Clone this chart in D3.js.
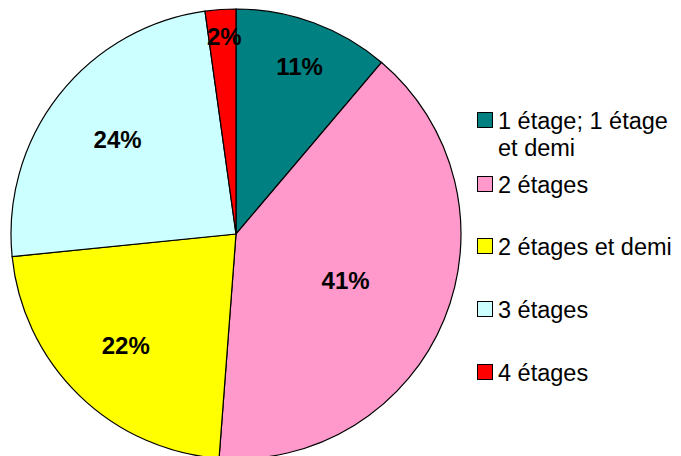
<!DOCTYPE html>
<html>
<head>
<meta charset="utf-8">
<script src="https://cdn.jsdelivr.net/npm/d3@7"></script>
<style>
  body { margin: 0; background: #fff; }
  text { font-family: "Liberation Sans", Arial, sans-serif; }
</style>
</head>
<body>
<svg id="chart" width="681" height="456"></svg>
<script>
// categories, in the order they are drawn (clockwise from 12 o'clock)
var categories = ["1 étage; 1 étage et demi", "2 étages", "2 étages et demi", "3 étages", "4 étages"];
// legend text lines (first entry wraps)
var legendLines = [["1 étage; 1 étage", "et demi"], ["2 étages"], ["2 étages et demi"], ["3 étages"], ["4 étages"]];
// share of each slice
var values = [11.2, 40.0, 22.2, 24.4, 2.2];
// percentage labels as printed on the chart
var pctLabels = ["11%", "41%", "22%", "24%", "2%"];
var colors = ["#008080", "#FF99CC", "#FFFF00", "#CCFFFF", "#FF0000"];

var svg = d3.select("#chart");
var cx = 236, cy = 234, radius = 225;

var pie = d3.pie().sort(null).value(function(d) { return d; });
var arcs = pie(values);

var arc = d3.arc().innerRadius(0).outerRadius(radius);

var g = svg.append("g")
    .attr("transform", "translate(" + cx + "," + cy + ")");

g.selectAll("path.slice")
    .data(arcs)
  .enter().append("path")
    .attr("class", "slice")
    .attr("d", arc)
    .attr("fill", function(d, i) { return colors[i]; })
    .attr("stroke", "#000")
    .attr("stroke-width", 1.2);

// labels: small slices pushed further out, like Excel does
g.selectAll("text.pct")
    .data(arcs)
  .enter().append("text")
    .attr("class", "pct")
    .attr("transform", function(d) {
      var pct = (d.endAngle - d.startAngle) / (2 * Math.PI) * 100;
      var r = 203 - 2.1 * pct;
      var a = (d.startAngle + d.endAngle) / 2 + 0.01;
      return "translate(" + (Math.sin(a) * r) + "," + (-Math.cos(a) * r) + ")";
    })
    .attr("text-anchor", "middle")
    .attr("dy", "0.36em")
    .style("font-size", "24px")
    .style("font-weight", "bold")
    .text(function(d, i) { return pctLabels[i]; });

// legend
var legendY = [121, 185, 247, 310, 373];
var legend = svg.append("g").attr("class", "legend");

var item = legend.selectAll("g.item")
    .data(categories)
  .enter().append("g")
    .attr("class", "item")
    .attr("transform", function(d, i) { return "translate(477," + legendY[i] + ")"; });

item.append("rect")
    .attr("x", 0.5)
    .attr("y", -8.5)
    .attr("width", 15)
    .attr("height", 15)
    .attr("fill", function(d, i) { return colors[i]; })
    .attr("stroke", "#000")
    .attr("stroke-width", 1);

item.append("text")
    .attr("x", 21)
    .style("font-size", "23.5px")
    .each(function(d, i) {
      d3.select(this).selectAll("tspan")
          .data(legendLines[i])
        .enter().append("tspan")
          .attr("x", 21)
          .attr("dy", function(t, j) { return j === 0 ? "0.36em" : "27px"; })
          .text(function(t) { return t; });
    });
</script>
</body>
</html>
